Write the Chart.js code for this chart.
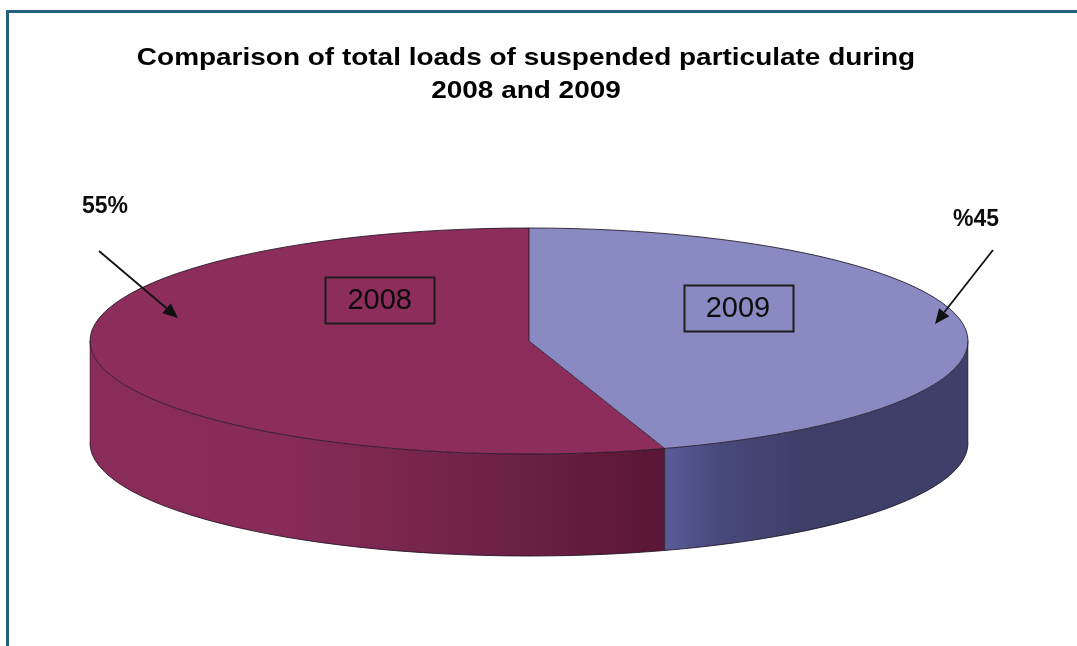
<!DOCTYPE html>
<html>
<head>
<meta charset="utf-8">
<script src="https://cdn.jsdelivr.net/npm/chart.js@4.4.1/dist/chart.umd.min.js"></script>
<style>
  html, body { margin: 0; padding: 0; background: #ffffff; }
  #wrap { width: 1077px; height: 646px; position: relative; }
</style>
</head>
<body>
<div id="wrap"><canvas id="c" width="1077" height="646"></canvas></div>
<script>
// ---- data ----
const categories = ['2008', '2009'];
const shares = [55, 45];
const shareLabels = ['55%', '%45'];
const titleLines = ['Comparison of total loads of suspended particulate during', '2008 and 2009'];

// ---- styles / layout ----
const topColors = ['#8c2d5c', '#8a8ac3'];
const sideStops = [
  [[0, '#8a2c5a'], [0.35, '#872b58'], [0.72, '#6d2145'], [1, '#5a1636']],
  [[0, '#5a5c98'], [0.18, '#47497c'], [0.45, '#3e3f68'], [1, '#3f4069']]
];
const GEO = { cx: 529, cy: 341, rx: 439, ry: 113, depth: 102 };
const FONT = '"Liberation Sans", Arial, Helvetica, sans-serif';
const TITLE = { x: 526, baselines: [65, 98], size: 24, stretch: 1.165 };
// label placements relative to ellipse (fractions of rx / ry)
const boxPos = [{ fx: -0.34, fy: -0.36 }, { fx: 0.476, fy: -0.29 }];
const pctPos = [{ x: 105, y: 207 }, { x: 976, y: 220 }];
const arrows = [
  { x1: 99, y1: 251, x2: 178, y2: 318 },
  { x1: 993, y1: 250, x2: 935, y2: 324 }
];

const total = shares.reduce((a, b) => a + b, 0);

function norm(a) {
  const TWO = Math.PI * 2;
  a = a % TWO; if (a < 0) a += TWO; return a;
}

const pie3d = {
  id: 'pie3d',
  beforeDraw(chart) {
    const ctx = chart.ctx;
    ctx.save();
    ctx.fillStyle = '#ffffff';
    ctx.fillRect(0, 0, chart.width, chart.height);
    ctx.restore();
  },
  beforeDatasetsDraw(chart) {
    const ctx = chart.ctx;
    const meta = chart.getDatasetMeta(0);
    const { cx, cy, rx, ry, depth } = GEO;
    // side walls
    meta.data.forEach((arc, i) => {
      let a0 = norm(arc.startAngle);
      let a1 = a0 + (arc.endAngle - arc.startAngle);
      const ranges = [[0, Math.PI], [2 * Math.PI, 3 * Math.PI]];
      ranges.forEach(([r0, r1]) => {
        const t0 = Math.max(a0, r0), t1 = Math.min(a1, r1);
        if (t1 <= t0) return;
        const xa = cx + rx * Math.cos(t0), xb = cx + rx * Math.cos(t1);
        const g = ctx.createLinearGradient(Math.min(xa, xb), 0, Math.max(xa, xb), 0);
        sideStops[i].forEach(([o, c]) => g.addColorStop(o, c));
        ctx.save();
        ctx.beginPath();
        ctx.ellipse(cx, cy, rx, ry, 0, t0, t1, false);
        ctx.ellipse(cx, cy + depth, rx, ry, 0, t1, t0, true);
        ctx.closePath();
        ctx.fillStyle = g;
        ctx.fill();
        ctx.restore();
      });
    });
    // squash the pie top into the ellipse
    const arc0 = meta.data[0];
    const R = arc0.outerRadius;
    ctx.save();
    ctx.translate(cx, cy);
    ctx.scale(rx / R, ry / R);
    ctx.translate(-arc0.x, -arc0.y);
  },
  afterDatasetsDraw(chart) {
    const ctx = chart.ctx;
    ctx.restore();
    const meta = chart.getDatasetMeta(0);
    const { cx, cy, rx, ry, depth } = GEO;
    ctx.save();
    ctx.strokeStyle = 'rgba(30,20,35,0.85)';
    ctx.lineWidth = 1;
    ctx.beginPath();
    ctx.ellipse(cx, cy, rx, ry, 0, 0, Math.PI * 2);
    ctx.stroke();
    ctx.beginPath();
    ctx.ellipse(cx, cy + depth, rx, ry, 0, 0, Math.PI);
    ctx.stroke();
    ctx.strokeStyle = 'rgba(30,20,35,0.5)';
    [0, Math.PI].forEach(t => {
      ctx.beginPath();
      ctx.moveTo(cx + rx * Math.cos(t), cy);
      ctx.lineTo(cx + rx * Math.cos(t), cy + depth);
      ctx.stroke();
    });
    ctx.strokeStyle = 'rgba(30,20,35,0.8)';
    meta.data.forEach(arc => {
      const a = arc.startAngle;
      const px = cx + rx * Math.cos(a), py = cy + ry * Math.sin(a);
      ctx.beginPath();
      ctx.moveTo(cx, cy);
      ctx.lineTo(px, py);
      ctx.stroke();
      if (Math.sin(a) > 0) {
        ctx.beginPath();
        ctx.moveTo(px, py);
        ctx.lineTo(px, py + depth);
        ctx.stroke();
      }
    });
    ctx.restore();

    // category boxes
    ctx.save();
    ctx.font = '29px ' + FONT;
    ctx.textAlign = 'center';
    ctx.textBaseline = 'middle';
    categories.forEach((c, i) => {
      const x = cx + boxPos[i].fx * rx, y = cy + boxPos[i].fy * ry;
      const w = ctx.measureText(c).width + 44, h = 46;
      ctx.strokeStyle = '#1e1e1e';
      ctx.lineWidth = 2;
      ctx.strokeRect(Math.round(x - w / 2) + 0.5, Math.round(y - h / 2) + 0.5, Math.round(w), h);
      ctx.fillStyle = '#0c0c0c';
      ctx.fillText(c, x, y + 1);
    });
    ctx.restore();

    // percentage labels
    ctx.save();
    ctx.font = 'bold 23px ' + FONT;
    ctx.textAlign = 'center';
    ctx.textBaseline = 'middle';
    ctx.fillStyle = '#0c0c0c';
    shareLabels.forEach((t, i) => ctx.fillText(t, pctPos[i].x, pctPos[i].y));
    ctx.restore();

    // arrows
    ctx.save();
    ctx.strokeStyle = '#111';
    ctx.fillStyle = '#111';
    ctx.lineWidth = 1.8;
    arrows.forEach(a => {
      const ang = Math.atan2(a.y2 - a.y1, a.x2 - a.x1);
      const hl = 15, hw = 6.5;
      const bx = a.x2 - hl * Math.cos(ang), by = a.y2 - hl * Math.sin(ang);
      ctx.beginPath();
      ctx.moveTo(a.x1, a.y1);
      ctx.lineTo(bx, by);
      ctx.stroke();
      ctx.beginPath();
      ctx.moveTo(a.x2, a.y2);
      ctx.lineTo(bx + hw * Math.sin(ang), by - hw * Math.cos(ang));
      ctx.lineTo(bx - hw * Math.sin(ang), by + hw * Math.cos(ang));
      ctx.closePath();
      ctx.fill();
    });
    ctx.restore();
  },
  afterDraw(chart) {
    const ctx = chart.ctx;
    // title (horizontally stretched like the source)
    ctx.save();
    ctx.font = 'bold ' + TITLE.size + 'px ' + FONT;
    ctx.textAlign = 'center';
    ctx.textBaseline = 'alphabetic';
    ctx.fillStyle = '#000000';
    titleLines.forEach((t, i) => {
      ctx.save();
      ctx.translate(TITLE.x, TITLE.baselines[i]);
      ctx.scale(TITLE.stretch, 1);
      ctx.fillText(t, 0, 0);
      ctx.restore();
    });
    ctx.restore();
    // frame
    ctx.save();
    ctx.strokeStyle = '#22607e';
    ctx.lineWidth = 3;
    ctx.beginPath();
    ctx.moveTo(7.5, chart.height);
    ctx.lineTo(7.5, 11.5);
    ctx.lineTo(chart.width, 11.5);
    ctx.stroke();
    ctx.restore();
  }
};

new Chart(document.getElementById('c'), {
  type: 'pie',
  data: {
    labels: categories,
    datasets: [{
      data: shares,
      backgroundColor: topColors,
      borderWidth: 0,
      hoverOffset: 0
    }]
  },
  options: {
    responsive: false,
    animation: false,
    events: [],
    rotation: 360 * shares[1] / total,
    layout: { padding: { left: 309, right: 328, top: 121, bottom: 85 } },
    plugins: {
      legend: { display: false },
      tooltip: { enabled: false },
      title: { display: false }
    }
  },
  plugins: [pie3d]
});
</script>
</body>
</html>
